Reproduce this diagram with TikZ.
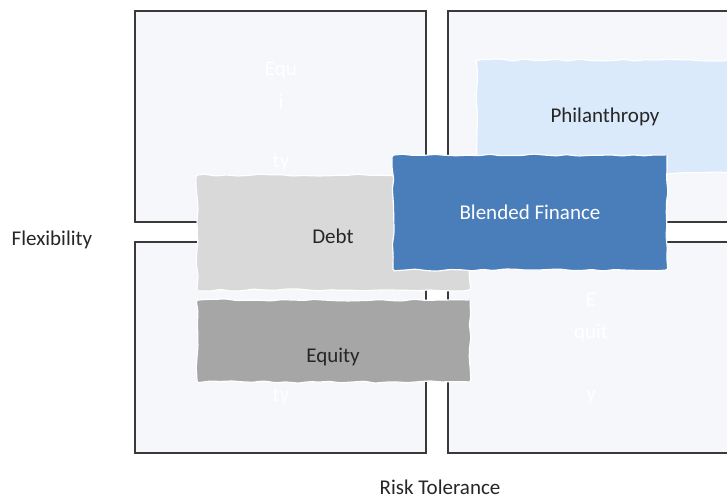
\documentclass[tikz,border=0pt]{standalone}
\usepackage{fontspec}
\setmainfont{Carlito}
\usetikzlibrary{decorations.pathmorphing}
\definecolor{quadfill}{HTML}{F5F7FB}
\definecolor{quadline}{HTML}{3A3A3A}
\definecolor{debtfill}{HTML}{D9D9D9}
\definecolor{equityfill}{HTML}{A6A6A6}
\definecolor{blendfill}{HTML}{4A7EBB}
\definecolor{philfill}{HTML}{DBEAFB}
\begin{document}
\begin{tikzpicture}[x=1pt,y=-1pt,
  quad/.style={fill=quadfill,draw=quadline,line width=1.8pt},
  roughbox/.style={rectangle,draw=white,line width=1.2pt,inner sep=0pt,
    decorate,decoration={random steps,segment length=11pt,amplitude=1.1pt},
    rounded corners=1.5pt},
  lbl/.style={font=\fontsize{21}{25}\selectfont,text=black!85,inner sep=0pt},
  faint/.style={font=\fontsize{21}{25}\selectfont,text=white,inner sep=0pt}]
\pgfmathsetseed{7}
\useasboundingbox (0,0) rectangle (727,499);
\clip (0,0) rectangle (727,499);
% quadrants
\draw[quad] (135,11) rectangle (426,222);
\draw[quad] (448,11) rectangle (745,222);
\draw[quad] (135,242) rectangle (426,453);
\draw[quad] (448,242) rectangle (745,453);
% faint quadrant labels
\node[faint] (q1a) at (281,70) {Equ};
\node[faint] (q1b) at (281,101) {i};
\node[faint] (q1c) at (281,163) {ty};
\node[faint] (q3a) at (281,397) {ty};
\node[faint] (q4a) at (591,300) {E};
\node[faint] (q4b) at (591,333) {quit};
\node[faint] (q4c) at (591,397) {y};
% boxes
\node[roughbox,fill=debtfill,minimum width=273pt,minimum height=115pt] (debt) at (333.5,232.5) {};
\node[roughbox,fill=equityfill,minimum width=273pt,minimum height=82pt] (equity) at (333.5,341) {};
\node[roughbox,fill=philfill,minimum width=258pt,minimum height=113pt] (phil) at (606,116.5) {};
\node[roughbox,fill=blendfill,minimum width=274pt,minimum height=115pt] (blend) at (530,212.5) {};
% texts
\node[lbl] (debtt) at (333,236) {Debt};
\node[lbl] (equityt) at (333,357) {Equity};
\node[lbl] (philt) at (605,117) {Philanthropy};
\node[lbl,text=white] (blendt) at (530,212) {Blended Finance};
\node[lbl] (flex) at (52,240) {Flexibility};
\node[lbl] (risk) at (440,487) {Risk Tolerance};
\end{tikzpicture}
\end{document}
